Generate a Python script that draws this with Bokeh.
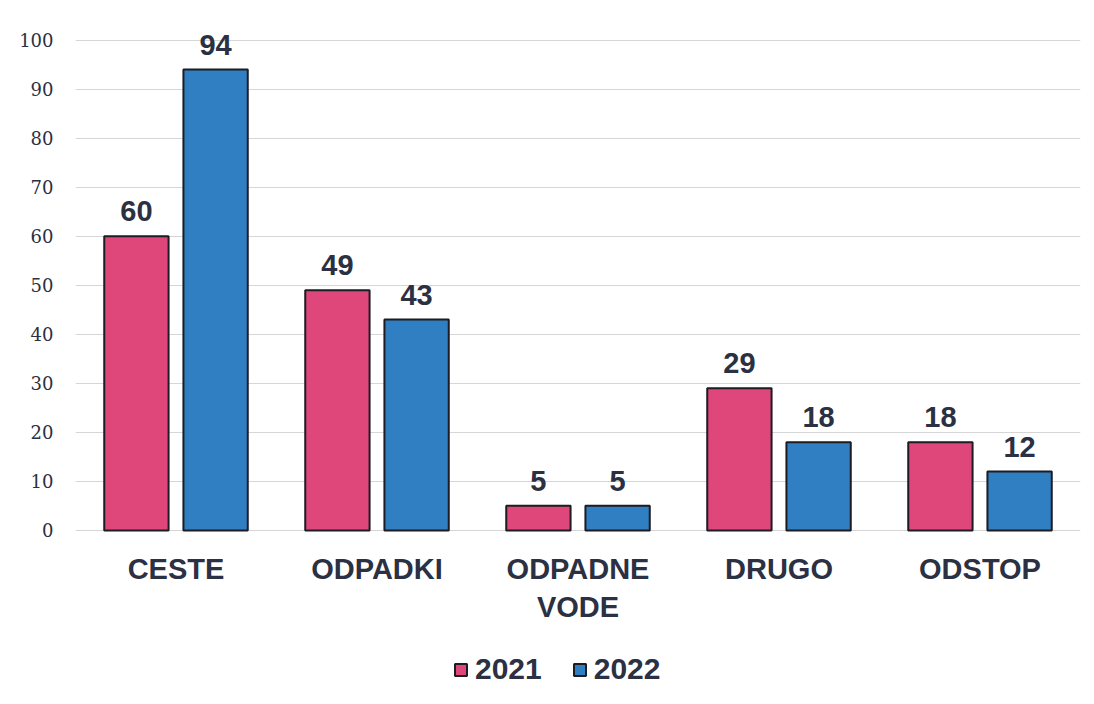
from bokeh.plotting import figure
from bokeh.models import ColumnDataSource, FactorRange, Range1d, FixedTicker, Legend, LegendItem
from bokeh.transform import dodge
from bokeh.core.properties import value
from bokeh.embed import file_html
from bokeh.resources import INLINE

categories = ["CESTE", "ODPADKI", "ODPADNE\nVODE", "DRUGO", "ODSTOP"]
values_2021 = [60, 49, 5, 29, 18]
values_2022 = [94, 43, 5, 18, 12]
series_names = ["2021", "2022"]
y_ticks = [0, 10, 20, 30, 40, 50, 60, 70, 80, 90, 100]

PINK = "#df4679"
BLUE = "#2f7fc2"
OUTLINE = "#1c1c22"
TEXT = "#2b3042"

src = ColumnDataSource(dict(
    cat=categories,
    zero=[0] * len(categories),
    v2021=values_2021,
    v2022=values_2022,
    l2021=[str(v) for v in values_2021],
    l2022=[str(v) for v in values_2022],
))

# frame extends below zero to hold category labels and the legend
p = figure(frame_width=1005, frame_height=680, output_backend="svg", toolbar_location=None,
           x_range=FactorRange(*categories), y_range=Range1d(-34.7, 104),
           min_border_left=75, min_border_right=6, min_border_top=20, min_border_bottom=0)
p.outline_line_color = None
p.background_fill_color = "white"

off = 0.197
w = 0.32
r1 = p.vbar(x=dodge("cat", -off, range=p.x_range), top="v2021", width=w, source=src,
            fill_color=PINK, line_color=OUTLINE, line_width=2)
r2 = p.vbar(x=dodge("cat", off, range=p.x_range), top="v2022", width=w, source=src,
            fill_color=BLUE, line_color=OUTLINE, line_width=2)

for col, lab, sgn in (("v2021", "l2021", -off), ("v2022", "l2022", off)):
    p.text(x=dodge("cat", sgn, range=p.x_range), y=col, text=lab, source=src,
           text_align="center", text_baseline="bottom", y_offset=-15,
           text_font=value("Liberation Sans"), text_font_style="bold",
           text_font_size="29px", text_color=TEXT)

# category labels
p.text(x="cat", y="zero", text="cat", source=src,
       text_align="center", text_baseline="top", y_offset=23,
       text_font=value("Liberation Sans"), text_font_style="bold",
       text_font_size="29px", text_color=TEXT, text_line_height=1.17)

# axes
p.xaxis.visible = False
p.yaxis.ticker = FixedTicker(ticks=y_ticks)
p.yaxis.axis_line_color = None
p.yaxis.major_tick_line_color = None
p.yaxis.minor_tick_line_color = None
p.yaxis.major_tick_out = 0
p.yaxis.major_label_text_font = "DejaVu Serif"
p.yaxis.major_label_text_font_size = "18px"
p.yaxis.major_label_text_color = TEXT
p.yaxis.major_label_standoff = 22

p.xgrid.grid_line_color = None
p.ygrid.grid_line_color = "#d6d6d6"
p.ygrid.grid_line_width = 1
p.ygrid.ticker = FixedTicker(ticks=y_ticks)

legend = Legend(items=[LegendItem(label=series_names[0], renderers=[r1]),
                       LegendItem(label=series_names[1], renderers=[r2])],
                orientation="horizontal", location=(378, 14),
                glyph_width=15, glyph_height=15, label_standoff=7, spacing=30,
                label_text_font="Liberation Sans", label_text_font_style="bold",
                label_text_font_size="30px", label_text_color=TEXT,
                border_line_color=None, background_fill_alpha=0,
                margin=0, padding=4)
p.add_layout(legend, "center")

open("out.html", "w").write(file_html(p, INLINE))
